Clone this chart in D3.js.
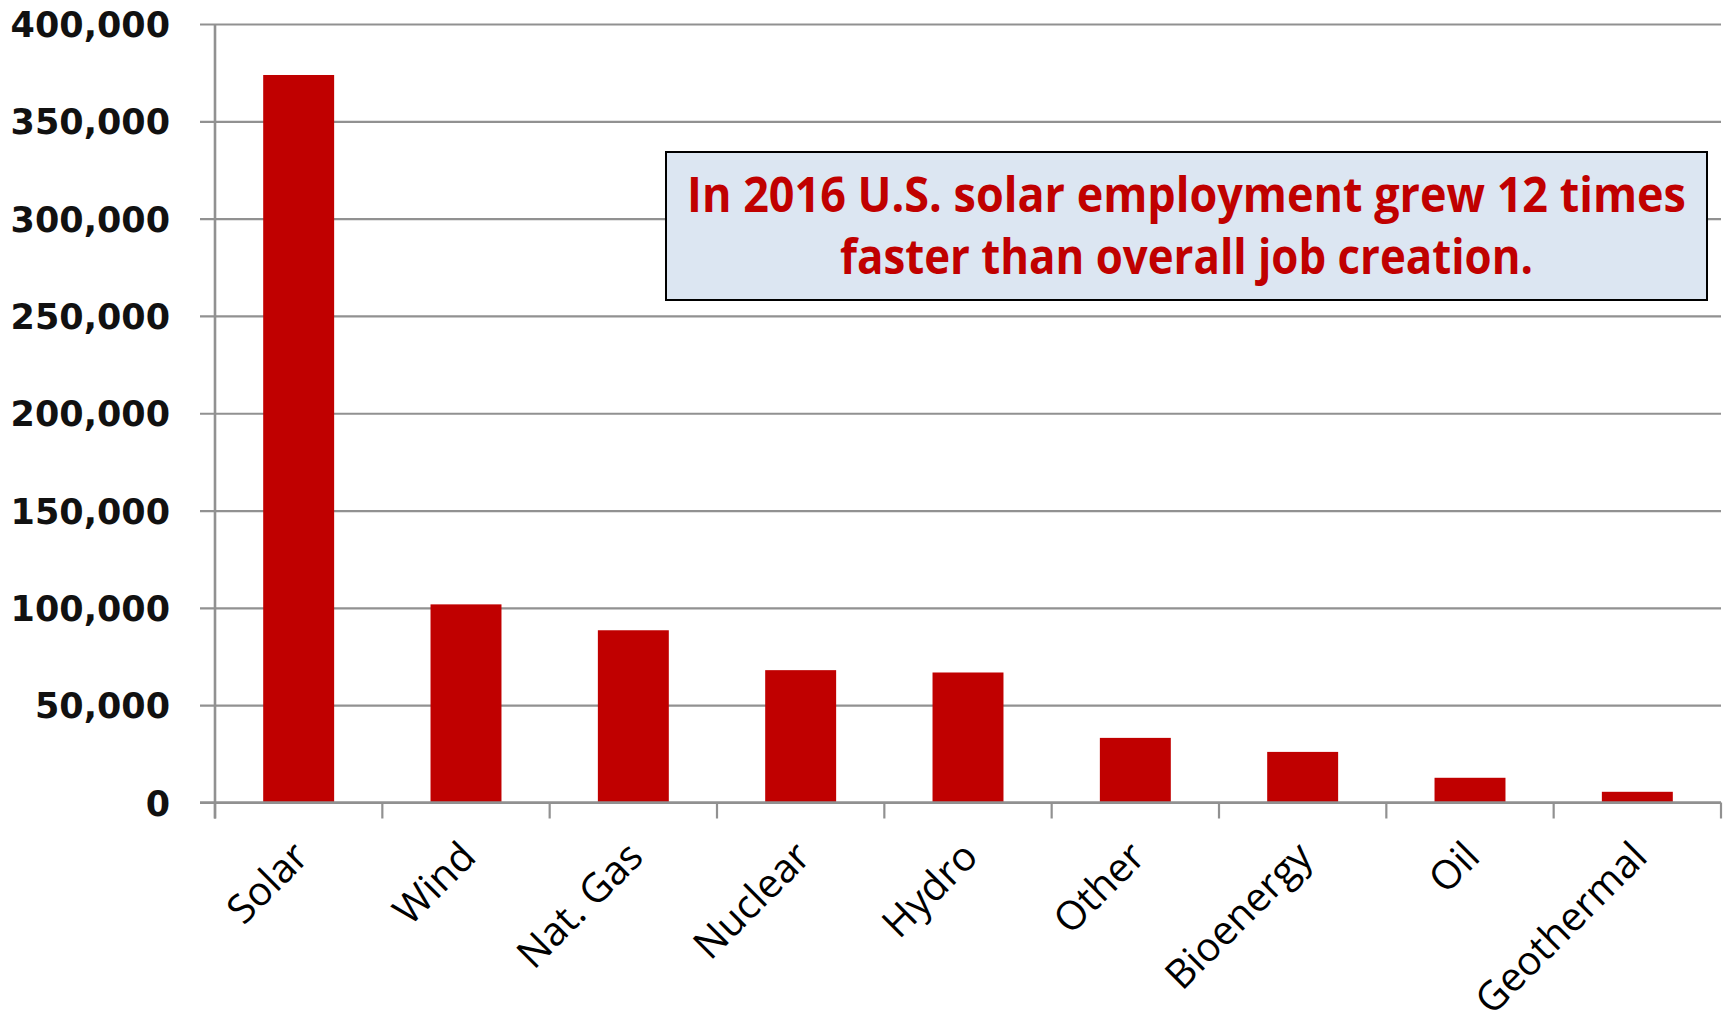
<!DOCTYPE html>
<html>
<head>
<meta charset="utf-8">
<script src="https://cdn.jsdelivr.net/npm/d3@7"></script>
<style>
  html, body { margin: 0; padding: 0; background: #fff; }
  svg { display: block; }
</style>
</head>
<body>
<svg id="chart" width="1727" height="1031"></svg>
<script>
// Electric power generation employment by technology, 2016
const categories = ["Solar", "Wind", "Nat. Gas", "Nuclear", "Hydro", "Other", "Bioenergy", "Oil", "Geothermal"];
const jobs = [373800, 101800, 88500, 68000, 66800, 33200, 26000, 12700, 5500];
const yTickValues = [0, 50000, 100000, 150000, 200000, 250000, 300000, 350000, 400000];
const noteLines = ["In 2016 U.S. solar employment grew 12 times", "faster than overall job creation."];

const svg = d3.select("#chart");
const plot = { left: 215, right: 1721, top: 24, bottom: 802.5 };
const gridColor = "#919191";
const barColor = "#C00000";

const x = d3.scaleBand()
  .domain(categories)
  .range([plot.left, plot.right])
  .paddingInner(0.576)
  .paddingOuter(0.288);

const y = d3.scaleLinear()
  .domain([0, 400000])
  .range([plot.bottom, plot.top]);

// horizontal gridlines with left tick marks
const yAxis = d3.axisLeft(y)
  .tickValues(yTickValues)
  .tickSize(-(plot.right - plot.left))
  .tickSizeOuter(0)
  .tickPadding(0)
  .tickFormat(d3.format(","));

const gy = svg.append("g")
  .attr("transform", `translate(${plot.left},0)`)
  .call(yAxis);
gy.select(".domain").remove();
gy.selectAll(".tick line")
  .attr("x1", -15)
  .attr("stroke", gridColor)
  .attr("stroke-width", 2.2);
gy.selectAll(".tick text")
  .attr("x", -45)
  .attr("dy", "0.36em")
  .attr("font-family", "'DejaVu Sans', Verdana, sans-serif")
  .attr("font-weight", "bold")
  .attr("font-size", 35)
  .attr("fill", "#111");

// vertical axis line
svg.append("line")
  .attr("x1", plot.left).attr("x2", plot.left)
  .attr("y1", y(400000)).attr("y2", plot.bottom + 16)
  .attr("stroke", gridColor)
  .attr("stroke-width", 2.6);

// bars
svg.append("g")
  .selectAll("rect")
  .data(categories.map((c, i) => ({ c, v: jobs[i] })))
  .join("rect")
  .attr("x", d => x(d.c))
  .attr("width", x.bandwidth())
  .attr("y", d => y(d.v))
  .attr("height", d => y(0) - y(d.v))
  .attr("fill", barColor);

// category boundary ticks
const step = x.step();
const boundaries = d3.range(categories.length + 1).map(i => plot.left + i * step);
svg.append("g")
  .selectAll("line")
  .data(boundaries)
  .join("line")
  .attr("x1", d => d).attr("x2", d => d)
  .attr("y1", plot.bottom).attr("y2", plot.bottom + 16)
  .attr("stroke", gridColor)
  .attr("stroke-width", 2.2);

// baseline over the bars
svg.append("line")
  .attr("x1", plot.left - 15).attr("x2", plot.right)
  .attr("y1", plot.bottom).attr("y2", plot.bottom)
  .attr("stroke", gridColor)
  .attr("stroke-width", 2.4);

// rotated category labels
svg.append("g")
  .selectAll("text")
  .data(categories)
  .join("text")
  .attr("transform", d => `translate(${x(d) + x.bandwidth() / 2 + 12},859) rotate(-45)`)
  .attr("text-anchor", "end")
  .attr("font-family", "'Open Sans', 'Noto Sans', sans-serif")
  .attr("font-size", 40)
  .attr("fill", "#000")
  .text(d => d);

// call-out box
const box = { x: 666, y: 152, w: 1041, h: 148 };
svg.append("rect")
  .attr("x", box.x).attr("y", box.y)
  .attr("width", box.w).attr("height", box.h)
  .attr("fill", "#DCE6F2")
  .attr("stroke", "#000")
  .attr("stroke-width", 2);

// note text, narrowed horizontally to a condensed look
const noteWidths = [999, 693];
const cx = box.x + box.w / 2;
svg.append("g")
  .selectAll("text")
  .data(noteLines)
  .join("text")
  .attr("text-anchor", "middle")
  .attr("font-family", "'Open Sans', 'Noto Sans', sans-serif")
  .attr("font-weight", "bold")
  .attr("font-size", 48)
  .attr("fill", barColor)
  .text(d => d)
  .attr("transform", function (d, i) {
    const sx = noteWidths[i] / this.getComputedTextLength();
    return `translate(${cx},${211.5 + i * 62}) scale(${sx},1)`;
  });
</script>
</body>
</html>
